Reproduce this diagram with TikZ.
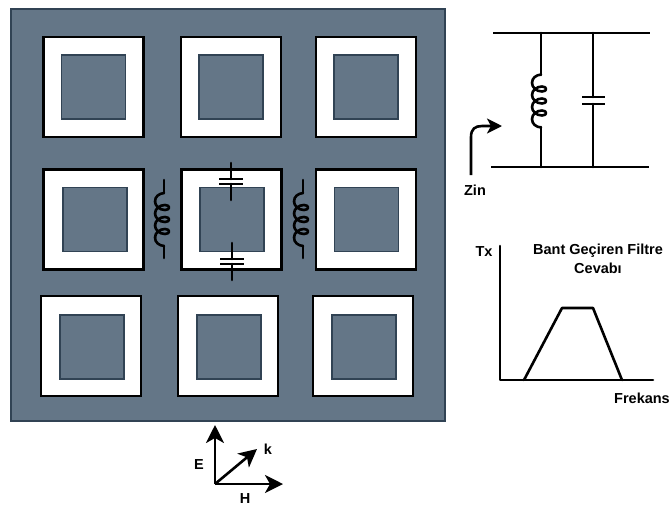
\documentclass[tikz,border=0pt]{standalone}
\usepackage{fontspec}
\setmainfont{Liberation Sans}
\usetikzlibrary{arrows.meta}
\definecolor{plate}{HTML}{647687}
\definecolor{plateline}{HTML}{314354}
\tikzset{
  outerbox/.style={draw=black, fill=white, line width=2.2pt, minimum width=100pt, minimum height=100pt, inner sep=0pt},
  innerbox/.style={draw=plateline, fill=plate, line width=1.5pt, minimum width=64pt, minimum height=64pt, inner sep=0pt},
  wire/.style={black, line width=2.6pt, line cap=round, line join=round},
  axisarrow/.style={wire, line cap=butt, -{Stealth[length=18pt, width=18pt, inset=5pt]}},
  lbl/.style={font=\bfseries\fontsize{14.5}{19}\selectfont, text=black, inner sep=0pt, align=center}
}
\newcommand*{\DrawCoil}[2]{%
   \begin{scope}[shift={(#1,#2)}]
     \draw[wire] (0,-26.5) .. controls (-5,-26) and (-9,-23) .. (-9,-18);
     \foreach \y in {-12,0,12}{
       \draw[wire] (-9,\y-6) .. controls (-9,\y-2) and (-5,\y+2.5) .. (1,\y+2.5)
         .. controls (6.5,\y+2.5) and (6.5,\y-2.5) .. (1,\y-2.5)
         .. controls (-4,\y-2.5) and (-9,\y+1) .. (-9,\y+6);
     }
     \draw[wire] (-9,18) .. controls (-9,23) and (-5,26) .. (0,26.5);
   \end{scope}}

\begin{document}
\begin{tikzpicture}[x=1pt, y=-1pt]
            \useasboundingbox (0,0) rectangle (672,512);
            \draw[draw=plateline, fill=plate, line width=1.5pt] (11,9) rectangle (445,421);
            \foreach \x/\y/\ix/\iy/\n in {93.5/87/93.5/87/a,231/87/231/87/b,366/87/366/87/c,93.5/219.5/95/219.5/d,231.5/219.5/232/219.5/e,366/219.5/366.5/219.5/f,91/346/92/347/g,228/346/229/347/h,363/346/364/347/i}{
              \node[outerbox] (cell\n) at (\x,\y) {};
              \node[innerbox] (hole\n) at (\ix,\iy) {};
            }
            % loads of the middle cell
            \coordinate (capAtop) at (231,163);
            \coordinate (capAa) at (231,179);
            \coordinate (capAb) at (231,184);
            \coordinate (capAend) at (231,200);
            \coordinate (capBtop) at (232,243);
            \coordinate (capBa) at (232,259);
            \coordinate (capBb) at (232,264);
            \coordinate (capBend) at (232,280);
            \draw[wire] (capAtop) -- (capAa);
            \draw[wire] (capAb) -- (capAend);
            \draw[wire] (capBtop) -- (capBa);
            \draw[wire] (capBb) -- (capBend);
            \foreach \c in {capAa,capAb,capBa,capBb}{
              \draw[wire, line cap=butt] ([xshift=-12pt]\c) -- ([xshift=12pt]\c);
            }
            \foreach \x in {164,303}{
              \draw[wire] (\x,180) -- (\x,193);
              \DrawCoil{\x}{219.5}
              \draw[wire] (\x,246) -- (\x,258);
            }
            % wave directions
            \coordinate (wave) at (215,484);
            \coordinate (waveE) at (215,425);
            \coordinate (waveH) at (283,484);
            \coordinate (waveK) at (257,449);
            \draw[axisarrow] (wave) -- (waveE);
            \draw[axisarrow] (wave) -- (waveH);
            \draw[axisarrow] (wave) -- (waveK);
            \node[lbl] (labelE) at (199,465) {E};
            \node[lbl] (labelH) at (245,499) {H};
            \node[lbl] (labelK) at (268,449) {k};
            % equivalent circuit
            \coordinate (topL) at (493,33);
            \coordinate (topR) at (650,33);
            \coordinate (botL) at (491,167);
            \coordinate (botR) at (649,167);
            \coordinate (indTop) at (541,33);
            \coordinate (indBot) at (541,167);
            \coordinate (capTop) at (593,33);
            \coordinate (capBot) at (593,167);
            \draw[wire, line cap=butt] (topL) -- (topR);
            \draw[wire, line cap=butt] (botL) -- (botR);
            \draw[wire] (indTop) -- (541,75);
            \DrawCoil{541}{101}
            \draw[wire] (541,127) -- (indBot);
            \draw[wire] (capTop) -- (593,97);
            \draw[wire] (593,104) -- (capBot);
            \draw[wire, line cap=butt] (582,97) -- (605,97);
            \draw[wire, line cap=butt] (582,104) -- (605,104);
            \coordinate (zinStart) at (471,175);
            \coordinate (zinEnd) at (502,126);
            \draw[wire, line cap=butt, -{Stealth[length=15pt, width=15pt, inset=4pt]}] (zinStart) -- (471,137) .. controls (471,129) and (475,126) .. (482,126) -- (zinEnd);
            \node[lbl] (labelZin) at (475,190) {Zin};
            % filter response
            \coordinate (axisTop) at (500,246);
            \coordinate (axisOrigin) at (500,380);
            \coordinate (axisEnd) at (653,380);
            \draw[wire] (axisTop) -- (axisOrigin) -- (axisEnd);
            \draw[wire] (524,380) -- (562,308) -- (593,308) -- (622,380);
            \node[lbl] (labelTx) at (484,252) {Tx};
            \node[lbl] (labelTitle) at (598,258.5) {Bant Geçiren Filtre\\Cevabı};
            \node[lbl] (labelFrekans) at (642,398) {Frekans};
          \end{tikzpicture}
\end{document}
